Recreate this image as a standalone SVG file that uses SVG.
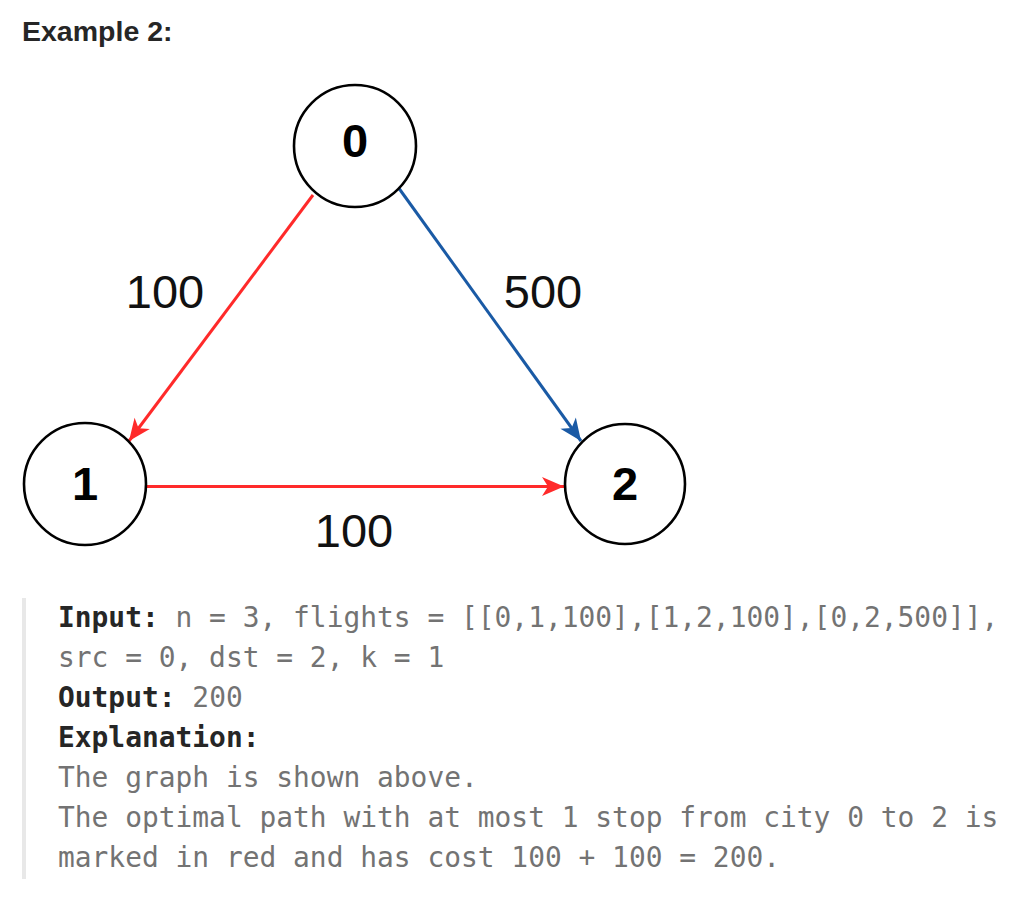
<svg xmlns="http://www.w3.org/2000/svg" width="1032" height="898" viewBox="0 0 1032 898">
<style>
.node{fill:#fff;stroke:#000;stroke-width:2.6}
.nl{font-family:"Liberation Sans",Arial,sans-serif;font-weight:bold;font-size:47px;fill:#000;text-anchor:middle}
.el{font-family:"Liberation Sans",Arial,sans-serif;font-size:47px;fill:#111;text-anchor:middle}
.red{stroke:#ff2a2a;stroke-width:3;fill:none}
.blue{stroke:#1a5aa5;stroke-width:3;fill:none}
.mono{font-family:"DejaVu Sans Mono","Liberation Mono",monospace;font-size:27.9px;fill:#737373}
.b{font-weight:bold;fill:#262626}
</style>
<defs>
<marker id="ar" viewBox="-24 -11 26 22" refX="0" refY="0" markerWidth="26" markerHeight="22" markerUnits="userSpaceOnUse" orient="auto">
<path d="M0,0 L-22,-9.5 L-16,0 L-22,9.5 Z" fill="#ff2a2a"/>
</marker>
<marker id="ab" viewBox="-24 -11 26 22" refX="0" refY="0" markerWidth="26" markerHeight="22" markerUnits="userSpaceOnUse" orient="auto">
<path d="M0,0 L-22,-9.5 L-16,0 L-22,9.5 Z" fill="#1a5aa5"/>
</marker>
</defs>
<rect width="1032" height="898" fill="#fff"/>
<text x="22" y="41" font-family="'Liberation Sans',Arial,sans-serif" font-weight="bold" font-size="28.5" fill="#262626">Example 2:</text>
<g id="connectors">
<line class="red" x1="313" y1="195" x2="129" y2="441" marker-end="url(#ar)"/>
<line class="blue" x1="398" y1="187" x2="581" y2="441" marker-end="url(#ab)"/>
<line class="red" x1="147" y1="486.5" x2="564" y2="486.5" marker-end="url(#ar)"/>
<text class="el" x="165" y="308">100</text>
<text class="el" x="543" y="308">500</text>
<text class="el" x="354" y="547">100</text>
</g>
<g id="node0">
<circle class="node" cx="355" cy="146" r="61"/>
<text class="nl" x="355" y="157">0</text>
</g>
<g id="node1">
<circle class="node" cx="85" cy="484" r="61"/>
<text class="nl" x="85" y="500">1</text>
</g>
<g id="node2">
<circle class="node" cx="625" cy="484" r="60"/>
<text class="nl" x="625" y="500">2</text>
</g>
<rect x="22" y="598" width="4" height="281" fill="#e8e8e8"/>
<g class="mono">
<text x="58" y="627"><tspan class="b">Input:</tspan> n = 3, flights = [[0,1,100],[1,2,100],[0,2,500]],</text>
<text x="58" y="667">src = 0, dst = 2, k = 1</text>
<text x="58" y="707"><tspan class="b">Output:</tspan> 200</text>
<text x="58" y="747" class="b">Explanation:</text>
<text x="58" y="787">The graph is shown above.</text>
<text x="58" y="827">The optimal path with at most 1 stop from city 0 to 2 is</text>
<text x="58" y="867">marked in red and has cost 100 + 100 = 200.</text>
</g>
</svg>
